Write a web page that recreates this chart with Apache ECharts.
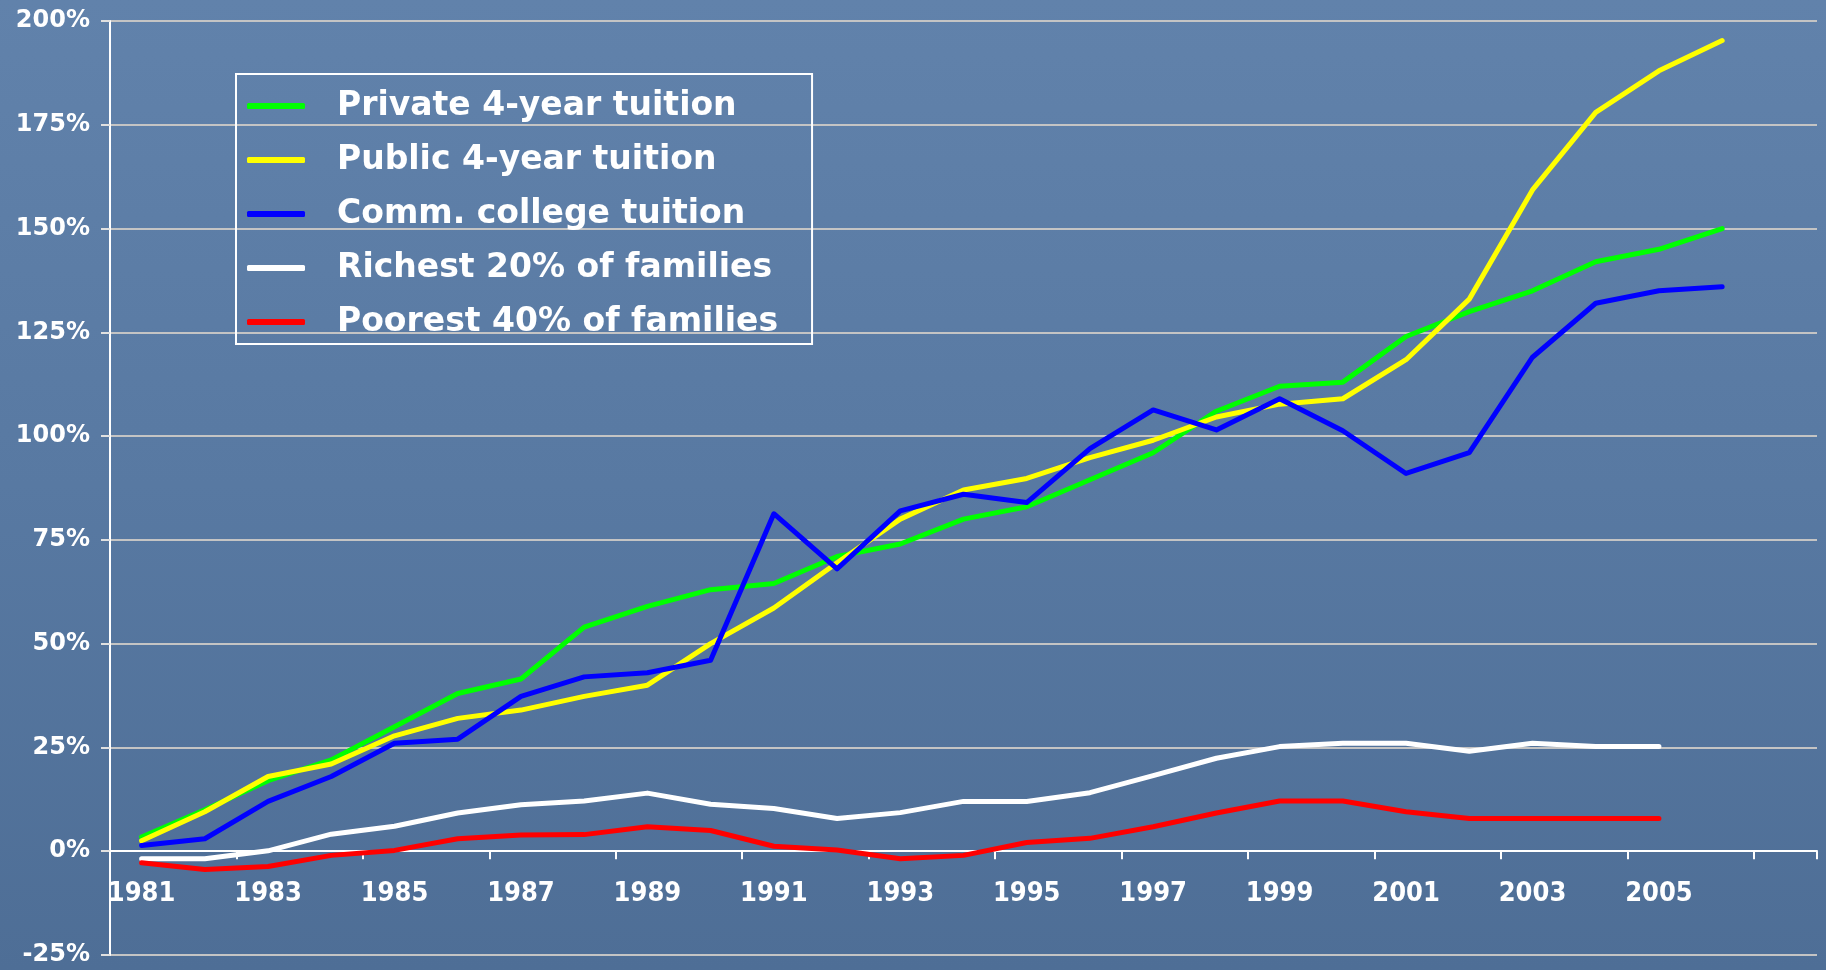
<!DOCTYPE html>
<html>
<head>
<meta charset="utf-8">
<script src="https://cdn.jsdelivr.net/npm/echarts@6/dist/echarts.min.js"></script>
<style>
  html, body { margin: 0; padding: 0; }
  #chart { width: 1826px; height: 970px; }
</style>
</head>
<body>
<div id="chart"></div>
<script>
const years = ['1981','1982','1983','1984','1985','1986','1987','1988','1989','1990',
  '1991','1992','1993','1994','1995','1996','1997','1998','1999','2000',
  '2001','2002','2003','2004','2005','2006','2007'];

const privateTuition = [3.4, 10, 17, 22, 30, 38, 41.5, 54, 59, 63, 64.5, 71, 74, 80, 83, 89.5, 96, 106, 112, 113, 124, 130, 135, 142, 145, 150, null];
const publicTuition  = [2.5, 9.5, 18, 21, 27.8, 32, 34, 37.3, 40, 50, 58.6, 69.5, 80, 87, 89.8, 94.8, 99, 104.6, 107.7, 109, 118.4, 133, 159.3, 178, 188, 195.3, null];
const commCollege    = [1.4, 3, 12, 18, 26, 27, 37.3, 42, 43, 46, 81.3, 68, 82, 86, 84, 97, 106.3, 101.5, 109, 101.3, 91, 96, 119, 132, 135, 136, null];
const richest20      = [-1.8, -1.8, 0.1, 4.1, 6, 9.2, 11.2, 12.1, 14, 11.3, 10.3, 7.9, 9.3, 12, 12, 14.1, 18.2, 22.4, 25.2, 26, 26, 24.1, 26, 25.2, 25.2, null, null];
const poorest40      = [-2.8, -4.4, -3.7, -1, 0.2, 3, 3.9, 4, 5.9, 5, 1.2, 0.3, -1.8, -1, 2.1, 3.1, 5.9, 9.2, 12.1, 12.1, 9.5, 7.9, 7.9, 7.9, 7.9, null, null];

const seriesNames = ['Private 4-year tuition', 'Public 4-year tuition', 'Comm. college tuition', 'Richest 20% of families', 'Poorest 40% of families'];
const seriesColors = ['#00ff00', '#ffff00', '#0000ff', '#ffffff', '#ff0000'];
const seriesData = [privateTuition, publicTuition, commCollege, richest20, poorest40];

const yMin = -25, yMax = 200, yStep = 25;

const W = 1826, H = 970;
const gridTop = 21, gridBottom = 15;
const plotH = H - gridTop - gridBottom;
// shift the x axis (line, ticks, labels) up from the grid bottom to the zero line
const zeroOffset = -plotH * (0 - yMin) / (yMax - yMin);

const chart = echarts.init(document.getElementById('chart'), null, { renderer: 'canvas' });

chart.setOption({
  animation: false,
  backgroundColor: {
    type: 'linear', x: 0, y: 0, x2: 0, y2: 1,
    colorStops: [
      { offset: 0, color: '#6182ab' },
      { offset: 0.5, color: '#5879a2' },
      { offset: 1, color: '#4e6e96' }
    ]
  },
  grid: { left: 110, right: 9, top: gridTop, bottom: gridBottom, containLabel: false },
  legend: {
    orient: 'vertical',
    left: 236,
    top: 74,
    data: seriesNames,
    icon: 'roundRect',
    itemWidth: 58,
    itemHeight: 6,
    itemGap: 14,
    padding: [12, 34, 2, 11],
    borderColor: '#ffffff',
    borderWidth: 2,
    textStyle: {
      color: '#ffffff',
      fontFamily: 'DejaVu Sans',
      fontWeight: 'bold',
      fontSize: 33,
      lineHeight: 40,
      padding: [0, 0, 0, 27]
    }
  },
  xAxis: {
    type: 'category',
    data: years,
    boundaryGap: true,
    position: 'bottom',
    offset: zeroOffset,
    axisLine: { onZero: false, lineStyle: { color: '#ffffff', width: 2 } },
    axisTick: { show: true, length: 8, lineStyle: { color: '#ffffff', width: 2 } },
    axisLabel: {
      interval: 1,
      color: '#ffffff',
      fontFamily: "'DejaVu Sans Condensed', 'Liberation Sans', sans-serif",
      fontWeight: 'bold',
      fontSize: 27,
      margin: 29,
      formatter: (v, i) => (i === years.length - 1 ? '' : v)
    },
    splitLine: { show: false }
  },
  yAxis: {
    type: 'value',
    min: yMin,
    max: yMax,
    interval: yStep,
    axisLine: { show: true, lineStyle: { color: '#ffffff', width: 2 } },
    axisTick: { show: true, length: 9, lineStyle: { color: '#e0e0e0', width: 2 } },
    axisLabel: {
      color: '#ffffff',
      fontFamily: 'DejaVu Sans',
      fontWeight: 'bold',
      fontSize: 24,
      margin: 20,
      formatter: '{value}%'
    },
    splitLine: { show: true, lineStyle: { color: '#c4c4c4', width: 2 } }
  },
  series: seriesNames.map((name, k) => ({
    name: name,
    type: 'line',
    data: seriesData[k],
    symbol: 'none',
    connectNulls: false,
    color: seriesColors[k],
    lineStyle: { color: seriesColors[k], width: 5, cap: 'round', join: 'round' },
    z: 3 + k
  }))
});
</script>
</body>
</html>
